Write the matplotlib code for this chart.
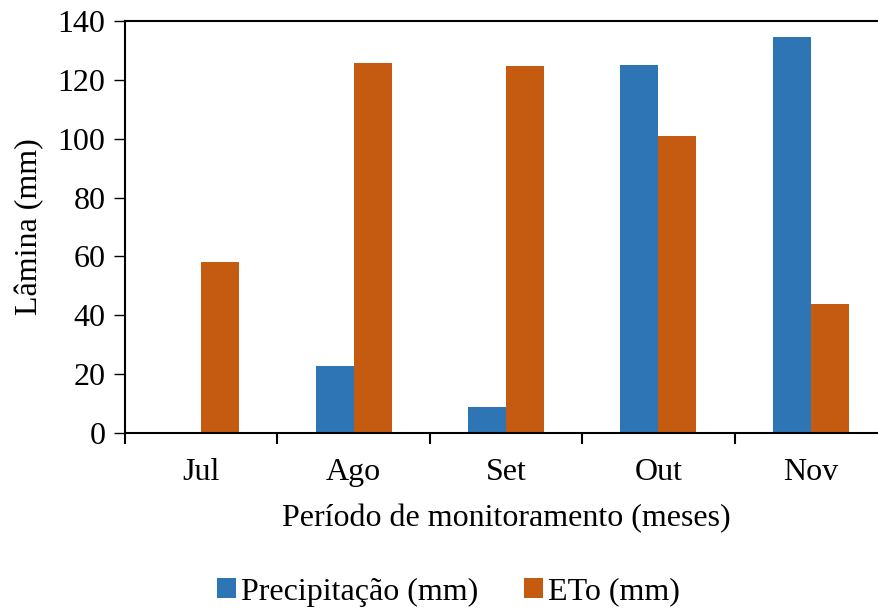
import numpy as np
import matplotlib.pyplot as plt

meses = ['Jul', 'Ago', 'Set', 'Out', 'Nov']
precipitacao = [0, 22.7, 8.7, 125.0, 134.6]
eto = [58.1, 125.7, 124.8, 100.9, 43.7]

plt.rcParams['font.family'] = ['Liberation Serif', 'DejaVu Serif']
plt.rcParams['font.size'] = 23

fig = plt.figure(figsize=(8.79, 6.08), dpi=100)
ax = fig.add_axes([125/879, 1 - 433/608, 762/879, 412/608])

x = np.arange(len(meses))
w = 0.25
ax.bar(x - w/2, precipitacao, w, color='#2E75B6', label='Precipitação (mm)')
ax.bar(x + w/2, eto, w, color='#C55A11', label='ETo (mm)')

ax.set_xlim(-0.5, 4.5)
ax.set_ylim(0, 140)
ax.set_yticks(range(0, 141, 20))
ax.set_xticks(x)
ax.set_xticklabels(meses)
ax.set_xticks(np.arange(-0.5, 5, 1), minor=True)
ax.tick_params(axis='x', which='major', length=0, pad=18)
ax.tick_params(axis='x', which='minor', length=8, width=1.5, direction='out')
ax.tick_params(axis='y', length=8, width=1, direction='out', pad=6)
ax.spines['right'].set_visible(False)
for s in ['left', 'bottom', 'top']:
    ax.spines[s].set_linewidth(1.5)

ax.set_ylabel('Lâmina (mm)', labelpad=10)
ax.set_xlabel('Período de monitoramento (meses)', labelpad=12)

fig.legend(loc='lower center', bbox_to_anchor=(0.51, -0.045), ncol=2, frameon=False,
           handlelength=0.6, handleheight=0.6, handletextpad=0.15, columnspacing=1.45)

fig.savefig('out.png', dpi=100)
